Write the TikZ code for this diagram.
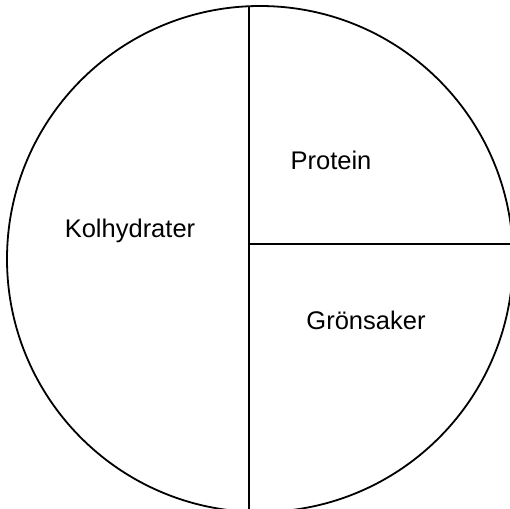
\documentclass[tikz,border=0pt]{standalone}
\usepackage{fontspec}
\setmainfont{Liberation Sans}
\begin{document}
\begin{tikzpicture}[x=1pt,y=-1pt,
  edge/.style={line width=1.8pt, black},
  lbl/.style={font=\fontsize{25.5}{30}\selectfont, inner sep=0pt}]
\useasboundingbox (0,0) rectangle (510,508);
\begin{scope}
\clip (0,0) rectangle (510,508);
\coordinate (c) at (260,259);
\draw[edge] (c) circle[radius=253];
\coordinate (top) at (249,6.2);
\coordinate (bot) at (249,520);
\coordinate (mid) at (249,244);
\coordinate (right) at (520,244);
\draw[edge] (top) -- (bot);
\draw[edge] (mid) -- (right);
\end{scope}
\node[lbl] (p) at (331,160) {Protein};
\node[lbl] (k) at (130,231) {Kolhydrater};
\node[lbl] (g) at (366,320) {Grönsaker};
\end{tikzpicture}
\end{document}
